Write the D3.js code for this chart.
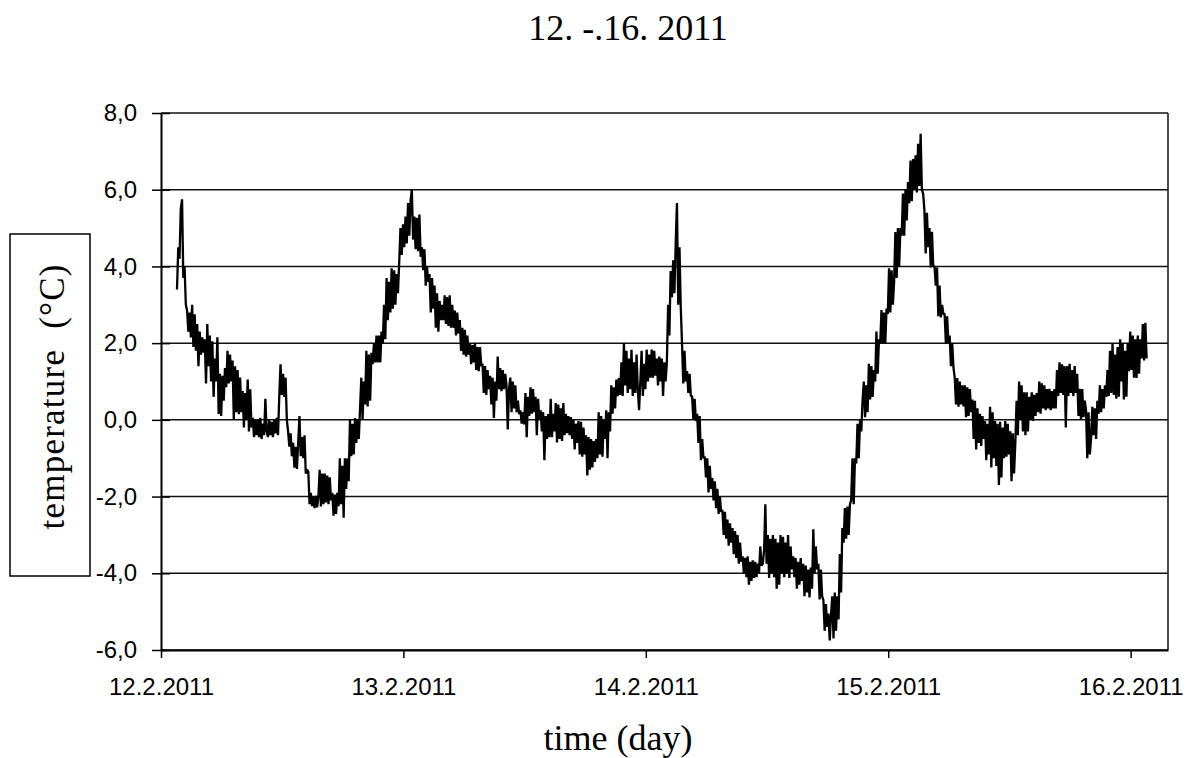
<!DOCTYPE html>
<html>
<head>
<meta charset="utf-8">
<script src="https://cdn.jsdelivr.net/npm/d3@7"></script>
<style>
  html, body { margin: 0; padding: 0; background: #fff; }
  svg { display: block; }
</style>
</head>
<body>
<svg id="chart" width="1193" height="758"></svg>
<script>
// Air temperature logged every 7.5 minutes, 12.2.2011 01:35 to 16.2.2011 01:35
// (one row = one hour of readings)
const startTime = new Date(2011, 1, 12, 1, 35);
const stepSeconds = 450;
const temperature = [
  3.4, 4.5, 4.2, 5.5, 5.75, 3.7, 4.0, 3.0,
  2.85, 2.3, 2.8, 2.15, 3.0, 1.9, 2.75, 1.8,
  2.5, 1.4, 2.3, 1.7, 2.15, 1.75, 2.1, 0.95,
  2.5, 1.4, 2.2, 1.0, 2.05, 0.6, 1.6, 1.0,
  2.15, 0.15, 1.2, 0.1, 1.15, 0.5, 1.35, 0.85,
  1.8, 0.95, 1.7, 1.0, 1.55, 0.0, 1.4, 0.2,
  1.3, 0.15, 1.1, 0.2, 0.75, -0.2, 0.7, 0.0,
  1.05, -0.3, 0.8, -0.2, 0.05, -0.45, 0.0, -0.4,
  0.0, -0.45, 0.05, -0.5, -0.1, -0.4, 0.55, -0.3,
  -0.45, 0.0, -0.4, -0.05, -0.45, 0.0, -0.35, 0.05,
  -0.4, 0.6, 1.45, 0.65, 1.2, 0.6, 1.1, 0.0,
  -0.3, -0.7, -0.35, -0.95, -0.6, -1.25, -0.7, -1.28,
  -0.6, 0.1, -0.95, -0.45, -1.0, -0.4, -1.4, -1.3,
  -1.35, -2.2, -1.9, -2.25, -2.0, -2.3, -1.98, -2.28,
  -2.0, -1.3, -2.26, -1.4, -2.2, -1.4, -2.15, -1.45,
  -2.2, -1.5, -2.1, -1.9, -2.5, -1.95, -2.45, -1.9,
  -2.25, -1.0, -2.2, -1.2, -2.55, -1.0, -1.8, -1.0,
  -1.6, 0.0, -0.95, -0.1, -0.9, 0.05, -0.6, 0.0,
  -0.5, 0.3, 1.1, 0.0, 1.0, 0.4, 1.8, 0.35,
  1.7, 0.5, 1.75, 1.45, 2.0, 1.5, 2.2, 1.5,
  2.2, 1.5, 2.3, 2.0, 3.0, 2.1, 3.7, 2.6,
  3.6, 2.8, 3.95, 2.9, 3.9, 3.0, 3.8, 3.3,
  4.1, 5.0, 4.3, 5.1, 4.5, 5.3, 4.6, 5.65,
  4.8, 5.7, 6.0, 4.7, 5.3, 4.45, 5.27, 4.4,
  5.35, 4.25, 4.5, 3.9, 4.45, 3.5, 4.0, 3.6,
  3.8, 2.8, 3.7, 2.9, 3.5, 2.4, 3.3, 2.3,
  3.1, 2.6, 3.0, 2.6, 3.25, 2.5, 3.2, 2.45,
  3.25, 2.4, 3.0, 2.4, 2.85, 2.2, 2.8, 2.25,
  2.6, 1.8, 2.4, 1.7, 2.35, 1.65, 2.2, 1.7,
  2.0, 1.45, 1.95, 1.5, 2.0, 1.3, 1.9, 1.27,
  1.9, 1.4, 1.46, 0.7, 1.4, 0.65, 1.3, 0.8,
  1.15, 0.4, 1.1, 0.05, 1.0, 0.5, 1.65, 0.8,
  1.35, 0.75, 1.3, 0.8, 1.2, 0.9, -0.25, 0.8,
  1.1, 0.2, 1.0, 0.3, 0.9, 0.2, 0.5, 0.15,
  0.25, -0.1, 0.2, -0.12, 0.7, -0.45, 0.6, 0.1,
  0.85, 0.16, 0.8, 0.2, 0.6, -0.4, 0.55, 0.0,
  0.25, -0.3, 0.2, -1.05, 0.1, -0.5, 0.15, -0.45,
  0.55, -0.45, 0.16, -0.3, 0.44, -0.59, 0.4, -0.5,
  0.3, -0.55, 0.44, -0.4, 0.16, -0.35, 0.1, -0.4,
  0.07, -0.5, 0.0, -0.77, -0.1, -0.6, -0.03, -0.9,
  -0.05, -0.96, -0.2, -0.9, -0.4, -1.45, -0.45, -1.3,
  -0.5, -1.24, -0.55, -1.1, -0.5, -1.0, 0.2, -0.9,
  0.1, -0.96, 0.0, -0.5, 0.25, -1.0, 0.2, -0.3,
  0.9, 0.16, 0.85, 0.3, 1.05, 0.62, 1.09, 0.65,
  1.5, 0.62, 2.0, 0.9, 1.8, 0.7, 1.6, 0.8,
  1.83, 0.62, 1.5, 0.7, 1.7, 0.8, 0.25, 1.0,
  1.8, 0.62, 1.46, 0.8, 1.83, 1.0, 1.7, 1.1,
  1.83, 1.1, 1.8, 1.15, 1.6, 0.9, 1.65, 1.0,
  1.6, 0.62, 1.5, 1.0, 1.5, 3.0, 2.2, 3.88,
  3.2, 4.16, 3.3, 4.6, 5.65, 3.0, 4.5, 2.95,
  2.0, 0.95, 1.8, 1.0, 1.27, 0.7, 1.2, 0.62,
  0.62, 0.0, 0.55, -0.03, 0.16, -0.6, 0.1, -1.05,
  -0.5, -1.0, -0.96, -1.5, -1.0, -1.89, -1.2, -1.8,
  -1.52, -2.1, -1.6, -2.3, -1.8, -2.45, -2.0, -2.4,
  -2.35, -3.0, -2.4, -3.1, -2.6, -3.28, -2.7, -3.2,
  -2.82, -3.5, -2.9, -3.6, -3.0, -3.75, -3.2, -3.7,
  -3.56, -4.0, -3.6, -4.1, -3.56, -4.3, -3.7, -4.2,
  -3.66, -4.12, -3.7, -4.1, -3.75, -4.0, -3.3, -3.8,
  -3.75, -3.4, -2.2, -3.75, -3.0, -4.12, -3.1, -4.0,
  -3.0, -4.1, -3.1, -4.4, -3.2, -4.3, -3.0, -4.0,
  -3.05, -4.1, -3.2, -4.0, -3.0, -4.12, -3.3, -3.9,
  -3.56, -4.1, -3.6, -4.4, -3.7, -4.3, -3.6, -4.2,
  -3.75, -4.6, -3.8, -4.5, -3.9, -4.63, -3.85, -4.4,
  -2.85, -4.0, -3.3, -3.9, -3.75, -4.68, -3.9, -4.6,
  -4.7, -5.5, -4.8, -5.4, -5.05, -5.75, -5.1, -4.6,
  -5.7, -4.5, -5.5, -4.6, -5.2, -3.5, -4.5, -2.82,
  -3.2, -2.3, -3.1, -2.26, -3.0, -2.2, -2.1, -1.0,
  -2.2, -1.0, -1.14, -0.1, -1.0, 0.0, -0.3, 0.5,
  1.0, 0.07, 0.9, 0.2, 1.46, 0.53, 1.4, 0.6,
  1.3, 1.0, 2.3, 1.2, 2.1, 2.0, 2.86, 2.0,
  2.8, 2.0, 2.9, 2.76, 3.95, 2.8, 3.9, 3.0,
  3.6, 4.9, 3.7, 5.0, 4.0, 5.0, 4.8, 5.9,
  4.8, 6.0, 5.2, 6.2, 5.65, 6.76, 5.7, 6.8,
  6.0, 6.9, 5.93, 7.2, 6.1, 7.46, 6.0, 5.9,
  5.46, 4.34, 5.4, 4.5, 5.0, 3.97, 4.9, 4.0,
  4.0, 3.5, 3.97, 2.7, 3.5, 2.67, 3.0, 2.76,
  2.76, 2.0, 2.7, 2.0, 2.2, 1.4, 2.0, 1.37,
  1.1, 0.4, 1.09, 0.34, 1.0, 0.4, 0.9, 0.35,
  0.9, 0.07, 0.85, 0.1, 0.8, 0.2, 0.53, -0.5,
  0.5, -0.77, 0.3, -0.6, 0.16, -0.68, 0.1, -0.5,
  -0.03, -1.05, -0.1, -0.9, 0.34, -1.24, 0.2, -1.0,
  -0.03, -1.2, -0.1, -1.7, -0.05, -1.5, -0.2, -1.0,
  -0.03, -0.96, -0.1, -0.9, -0.3, -1.6, -0.35, -1.4,
  -0.6, 0.5, -0.4, 1.0, 0.0, 0.9, -0.3, 0.72,
  -0.4, 0.72, -0.3, 0.6, 0.0, 0.72, -0.03, 0.65,
  0.1, 0.7, 0.2, 1.0, 0.16, 0.95, 0.3, 0.9,
  0.25, 0.8, 0.3, 0.81, 0.25, 0.75, 0.3, 0.8,
  0.3, 1.3, 0.62, 1.5, 0.7, 1.45, 0.65, 1.4,
  -0.2, 1.4, 0.62, 1.46, 0.7, 1.3, 0.62, 1.4,
  0.7, 1.2, 0.1, 0.81, 0.0, 0.8, 0.07, 0.5,
  0.25, -1.0, 0.2, -0.9, -0.49, 0.34, -0.4, 0.3,
  -0.5, 0.5, 0.16, 0.9, 0.2, 0.8, 0.3, 0.9,
  0.6, 1.3, 0.62, 1.8, 0.7, 2.0, 0.65, 1.7,
  0.55, 1.9, 0.6, 2.1, 1.0, 2.0, 0.53, 1.8,
  0.6, 2.0, 1.27, 2.3, 1.3, 2.2, 1.1, 2.1,
  1.09, 2.2, 1.2, 2.1, 1.6, 2.5, 1.55, 2.53,
  1.6
];

const dayTicks = [
  new Date(2011, 1, 12), new Date(2011, 1, 13), new Date(2011, 1, 14),
  new Date(2011, 1, 15), new Date(2011, 1, 16)
];
const tempTicks = [-6, -4, -2, 0, 2, 4, 6, 8];

const titleText = "12. -.16. 2011";
const xLabelText = "time (day)";
const yLabelText = "temperature\u00A0\u00A0(\u00B0C)";

// ---- layout ----
const plot = { left: 161, right: 1168, top: 113, bottom: 650 };
const svg = d3.select("#chart");
svg.append("rect").attr("width", 1193).attr("height", 758).attr("fill", "#fff");

const x = d3.scaleTime()
  .domain([new Date(2011, 1, 12, 0, 0), new Date(2011, 1, 16, 3, 42)])
  .range([plot.left, plot.right]);
const y = d3.scaleLinear().domain([-6, 8]).range([plot.bottom, plot.top]);

const locale = d3.formatLocale({ decimal: ",", thousands: " ", grouping: [3], currency: ["", ""], minus: "-" });
const fmtTemp = locale.format(".1f");
const fmtDay = d3.timeFormat("%-d.%-m.%Y");

// horizontal gridlines (the top one doubles as the plot border)
svg.append("g")
  .selectAll("line")
  .data(tempTicks)
  .join("line")
  .attr("x1", plot.left).attr("x2", plot.right)
  .attr("y1", d => y(d)).attr("y2", d => y(d))
  .attr("stroke", "#111").attr("stroke-width", 1.5);

// right border
svg.append("line")
  .attr("x1", plot.right).attr("x2", plot.right)
  .attr("y1", plot.top).attr("y2", plot.bottom)
  .attr("stroke", "#111").attr("stroke-width", 1.5);

// temperature trace
const series = temperature.map((v, i) => ({ t: d3.timeSecond.offset(startTime, i * stepSeconds), v }));
svg.append("path")
  .datum(series)
  .attr("fill", "none")
  .attr("stroke", "#000")
  .attr("stroke-width", 2.3)
  .attr("stroke-linejoin", "bevel")
  .attr("d", d3.line().x(d => x(d.t)).y(d => y(d.v)));

// y axis with cross tick marks
const yAxis = svg.append("g")
  .attr("transform", `translate(${plot.left},0)`)
  .call(d3.axisLeft(y).tickValues(tempTicks).tickFormat(fmtTemp).tickSize(0).tickPadding(24));
yAxis.select(".domain").attr("stroke", "#000").attr("stroke-width", 2);
yAxis.selectAll(".tick line").attr("x1", -9).attr("x2", 9).attr("stroke", "#000").attr("stroke-width", 1.5);
yAxis.selectAll(".tick text")
  .attr("font-family", "'Liberation Sans', Arial, sans-serif")
  .attr("font-size", 24).attr("fill", "#000");

// x axis
const xAxis = svg.append("g")
  .attr("transform", `translate(0,${plot.bottom})`)
  .call(d3.axisBottom(x).tickValues(dayTicks).tickFormat(fmtDay).tickSizeInner(8).tickSizeOuter(0).tickPadding(20));
xAxis.select(".domain").attr("stroke", "#000").attr("stroke-width", 2);
xAxis.selectAll(".tick line").attr("stroke", "#000").attr("stroke-width", 1.5);
xAxis.selectAll(".tick text")
  .attr("font-family", "'Liberation Sans', Arial, sans-serif")
  .attr("font-size", 24).attr("fill", "#000");

// title
svg.append("text")
  .attr("x", 628).attr("y", 40)
  .attr("text-anchor", "middle")
  .attr("font-family", "'Liberation Serif', 'Times New Roman', serif")
  .attr("font-size", 36)
  .text(titleText);

// x axis title
svg.append("text")
  .attr("x", 618).attr("y", 750)
  .attr("text-anchor", "middle")
  .attr("font-family", "'Liberation Serif', 'Times New Roman', serif")
  .attr("font-size", 36)
  .text(xLabelText);

// y axis title in its framed box
svg.append("rect")
  .attr("x", 10).attr("y", 234).attr("width", 80).attr("height", 342)
  .attr("fill", "none").attr("stroke", "#000").attr("stroke-width", 1.5);
svg.append("text")
  .attr("transform", "translate(64,397) rotate(-90)")
  .attr("text-anchor", "middle")
  .attr("font-family", "'Liberation Serif', 'Times New Roman', serif")
  .attr("font-size", 35)
  .attr("textLength", 265)
  .text(yLabelText);
</script>
</body>
</html>
